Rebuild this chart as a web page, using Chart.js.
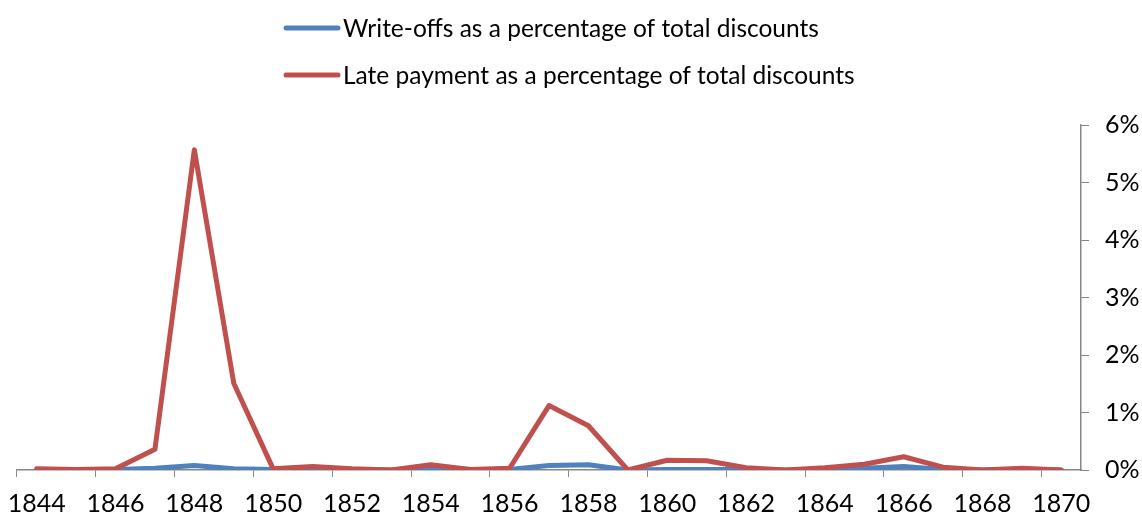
<!DOCTYPE html>
<html>
<head>
<meta charset="utf-8">
<script src="https://cdn.jsdelivr.net/npm/chart.js@4"></script>
<style>
  html, body { margin: 0; padding: 0; background: #fff; }
  #wrap { width: 1142px; height: 516px; }
</style>
</head>
<body>
<div id="wrap"><canvas id="chart"></canvas></div>
<script>
const years = ['1844', '1845', '1846', '1847', '1848', '1849', '1850', '1851', '1852',
  '1853', '1854', '1855', '1856', '1857', '1858', '1859', '1860', '1861', '1862',
  '1863', '1864', '1865', '1866', '1867', '1868', '1869', '1870'];

// percent of total discounts
const writeOffs = [0.01, 0.01, 0.01, 0.03, 0.08, 0.02, 0.01, 0.03, 0.01,
  0.00, 0.05, 0.01, 0.01, 0.08, 0.09, 0.00, 0.01, 0.01, 0.01,
  0.00, 0.01, 0.03, 0.06, 0.01, 0.00, 0.01, 0.00];
const latePayment = [0.02, 0.01, 0.02, 0.36, 5.57, 1.51, 0.02, 0.06, 0.02,
  0.00, 0.09, 0.01, 0.03, 1.12, 0.77, 0.00, 0.17, 0.16, 0.04,
  0.00, 0.04, 0.10, 0.23, 0.05, 0.00, 0.03, 0.00];

const yTicks = [0, 1, 2, 3, 4, 5, 6];

const BLUE = '#4F81BD';
const RED = '#C0504D';
const AXIS = '#868686';
const FONT = 'Lato';

// two-row legend, left aligned, above the plot
const stackedLegend = {
  id: 'stackedLegend',
  afterDraw(chart) {
    const ctx = chart.ctx;
    const rows = [28, 75];
    ctx.save();
    ctx.font = '24.5px ' + FONT;
    ctx.textBaseline = 'middle';
    ctx.fillStyle = '#000';
    ctx.lineWidth = 5;
    ctx.lineCap = 'round';
    chart.data.datasets.forEach((ds, i) => {
      const y = rows[i];
      ctx.strokeStyle = ds.borderColor;
      ctx.beginPath();
      ctx.moveTo(286, y);
      ctx.lineTo(338, y);
      ctx.stroke();
      ctx.fillText(ds.label, 343, y + 1);
    });
    ctx.restore();
  }
};

new Chart(document.getElementById('chart'), {
  type: 'line',
  data: {
    labels: years,
    datasets: [
      {
        label: 'Write-offs as a percentage of total discounts',
        data: writeOffs,
        borderColor: BLUE,
        backgroundColor: BLUE,
        order: 1
      },
      {
        label: 'Late payment as a percentage of total discounts',
        data: latePayment,
        borderColor: RED,
        backgroundColor: RED,
        order: 0
      }
    ]
  },
  options: {
    responsive: true,
    maintainAspectRatio: false,
    animation: false,
    layout: { padding: { top: 125, left: 17, right: 0, bottom: 0 } },
    elements: {
      line: { borderWidth: 5, tension: 0, borderJoinStyle: 'round', borderCapStyle: 'round' },
      point: { radius: 0, hoverRadius: 0 }
    },
    plugins: {
      legend: { display: false },
      tooltip: { enabled: false }
    },
    scales: {
      x: {
        offset: true,
        grid: {
          offset: true,
          drawOnChartArea: false,
          tickLength: 7,
          color: ctx => (ctx.index % 2 === 0 ? AXIS : 'rgba(0,0,0,0)')
        },
        border: { color: AXIS, width: 1.5 },
        ticks: {
          autoSkip: false,
          maxRotation: 0,
          padding: 12,
          color: '#000',
          font: { family: FONT, size: 25 },
          callback: (v, i) => (i % 2 === 0 ? years[i] : '')
        },
        afterFit: s => {
          s.height = 46;
          // labels may overhang the plot edges, keep the plot where padding puts it
          s.paddingLeft = 0;
          s.paddingRight = 0;
        }
      },
      y: {
        position: 'right',
        min: 0,
        max: 6,
        afterBuildTicks: s => { s.ticks = yTicks.map(v => ({ value: v })); },
        grid: { drawOnChartArea: false, tickLength: 8, color: AXIS },
        border: { color: AXIS, width: 1.5 },
        ticks: {
          padding: 16,
          color: '#000',
          font: { family: FONT, size: 25 },
          callback: v => v + '%'
        },
        afterFit: s => { s.width = 61; }
      }
    }
  },
  plugins: [stackedLegend]
});
</script>
</body>
</html>
